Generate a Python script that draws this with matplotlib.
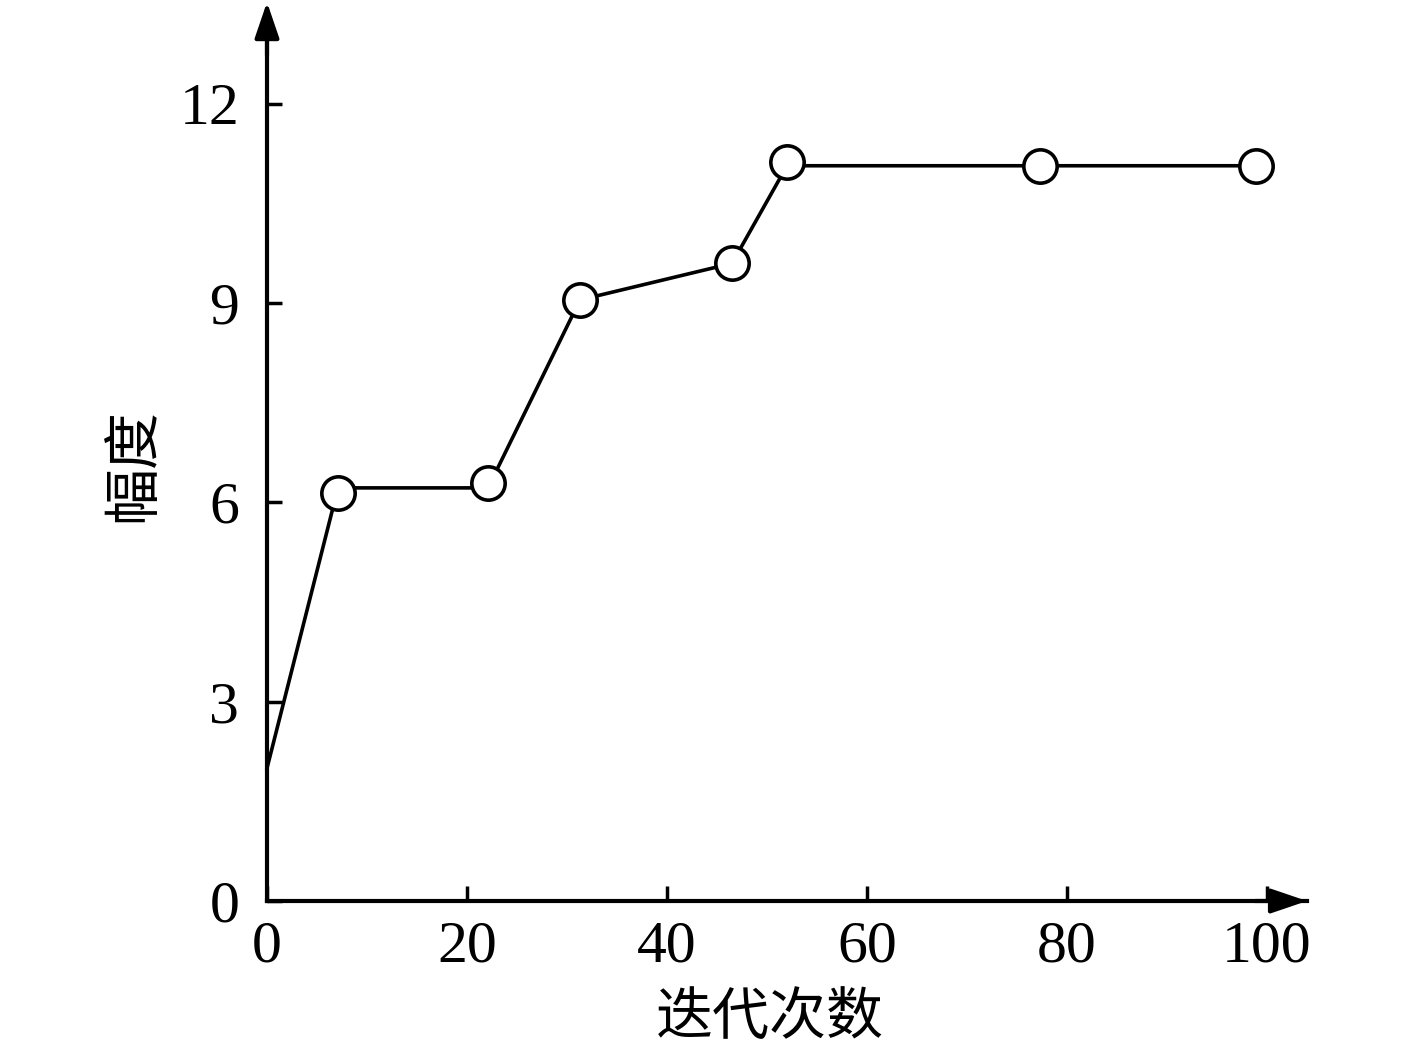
import matplotlib.pyplot as plt

# Dados (a linha liga-se aos círculos na horizontal, como no original)
iteracoes = [0, 7.1, 22.1, 31.3, 46.5, 52.0, 77.3, 98.9]
amplitude_linha = [2.0, 6.22, 6.22, 9.05, 9.6, 11.07, 11.07, 11.07]
iteracoes_circ = [7.1, 22.1, 31.3, 46.5, 52.0, 77.3, 98.9]
amplitude_circ = [6.15, 6.3, 9.05, 9.6, 11.13, 11.07, 11.07]
x_ticks = [0, 20, 40, 60, 80, 100]
y_ticks = [0, 3, 6, 9, 12]

plt.rcParams['font.family'] = ['Liberation Serif', 'Noto Sans CJK SC']

fig = plt.figure(figsize=(14.17, 10.49), dpi=100)
ax = fig.add_axes([267 / 1417, 148 / 1049, 1040 / 1417, 890 / 1049])

ax.plot(iteracoes, amplitude_linha, color='black', linewidth=2.6, clip_on=False, zorder=3)
ax.plot(iteracoes_circ, amplitude_circ, linestyle='none', marker='o', markersize=24,
        markerfacecolor='white', markeredgecolor='black', markeredgewidth=2.6,
        clip_on=False, zorder=4)

ax.set_xlim(0, 104)
ax.set_ylim(0, 13.4)
ax.set_xticks(x_ticks)
ax.set_yticks(y_ticks)

for s in ['top', 'right']:
    ax.spines[s].set_visible(False)
for s in ['left', 'bottom']:
    ax.spines[s].set_linewidth(3)

ax.tick_params(direction='in', length=11, width=2.5, labelsize=43)
ax.tick_params(axis='x', pad=14)
ax.tick_params(axis='y', pad=20)

# setas nos eixos
ax.annotate('', xy=(1.0, 0), xytext=(0.95, 0), xycoords='axes fraction',
            arrowprops=dict(arrowstyle='-|>,head_length=2.2,head_width=0.75',
                            color='black', lw=3, shrinkA=0, shrinkB=0))
ax.annotate('', xy=(0, 1.01), xytext=(0, 0.95), xycoords='axes fraction',
            arrowprops=dict(arrowstyle='-|>,head_length=2.2,head_width=0.75',
                            color='black', lw=3, shrinkA=0, shrinkB=0))

fig.text(770 / 1417, 1 - 1018 / 1049, '迭代次数', fontsize=41,
         family=['Noto Sans CJK SC'], ha='center', va='center')
fig.text(133 / 1417, 1 - 465 / 1049, '幅度', fontsize=41, rotation=90,
         family=['Noto Sans CJK SC'], ha='center', va='center')

plt.savefig('out.png', dpi=100)
